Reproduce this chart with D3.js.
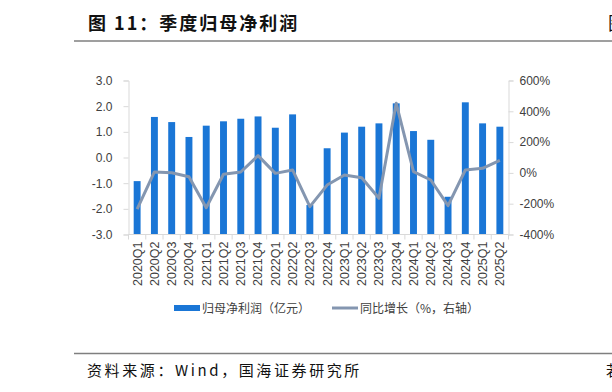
<!DOCTYPE html>
<html><head><meta charset="utf-8">
<script src="https://cdn.jsdelivr.net/npm/d3@7"></script>
<style>
body{margin:0;background:#fff;}
svg{display:block;font-family:"Noto Sans CJK SC","Noto Sans",sans-serif;}
</style></head>
<body>
<svg id="c" width="612" height="392"></svg>
<script>
const categories = ["2020Q1","2020Q2","2020Q3","2020Q4","2021Q1","2021Q2","2021Q3","2021Q4","2022Q1","2022Q2","2022Q3","2022Q4","2023Q1","2023Q2","2023Q3","2023Q4","2024Q1","2024Q2","2024Q3","2024Q4","2025Q1","2025Q2"];
const profit = [-0.92,1.58,1.38,0.80,1.24,1.41,1.51,1.60,1.16,1.68,-1.85,0.36,0.97,1.20,1.33,2.11,1.03,0.69,-1.53,2.15,1.33,1.20];
const yoy = [-235,6,1,-25,-226,-9,6,112,-3,19,-219,-79,-14,-31,-165,452,8,-46,-213,19,30,82];
const leftTicks = [-3,-2,-1,0,1,2,3];
const rightTicks = [-400,-200,0,200,400,600];
const title = "图 11：季度归母净利润";
const source = "资料来源：Wind，国海证券研究所";
const legendLabels = ["归母净利润（亿元）","同比增长（%，右轴）"];

const svg = d3.select("#c");
const barColor = "#1a76d6", lineColor = "#8496b0", axisColor = "#d9d9d9", textColor = "#404040";
const L = 128.5, R = 508.5, T = 80.5, B = 234.5;

// title
svg.append("text").attr("x",88).attr("y",30).attr("font-size",18).attr("font-weight","bold")
  .attr("letter-spacing","2px").attr("fill","#111").text(title);
svg.append("text").attr("x",608).attr("y",30).attr("font-size",18).attr("fill","#111").text("图");
svg.append("line").attr("x1",74).attr("x2",612).attr("y1",41).attr("y2",41).attr("stroke","#7f7f7f").attr("stroke-width",1.5);

// footer
svg.append("line").attr("x1",74).attr("x2",612).attr("y1",353.5).attr("y2",353.5).attr("stroke","#7f7f7f").attr("stroke-width",1.5);
svg.append("text").attr("x",87).attr("y",376).attr("font-size",15).attr("letter-spacing","2.6px").attr("fill","#111").text(source);
svg.append("text").attr("x",606).attr("y",376).attr("font-size",15).attr("fill","#111").text("若");

const x = d3.scaleBand().domain(categories).range([L,R]).paddingInner(0.6).paddingOuter(0.3);
const yL = d3.scaleLinear().domain([-3,3]).range([B,T]);
const yR = d3.scaleLinear().domain([-400,600]).range([B,T]);

// bars (from axis minimum)
svg.append("g").selectAll("rect").data(categories).join("rect")
  .attr("x",d=>x(d)).attr("width",x.bandwidth())
  .attr("y",(d,i)=>yL(profit[i])).attr("height",(d,i)=>yL(-3)-yL(profit[i]))
  .attr("fill",barColor);

// line
const line = d3.line().x((d,i)=>x(categories[i])+x.bandwidth()/2).y(d=>yR(d));
svg.append("path").datum(yoy).attr("d",line).attr("fill","none").attr("stroke",lineColor)
  .attr("stroke-width",3).attr("stroke-linejoin","round");

// axes
function styleAxis(g){
  g.select(".domain").attr("stroke",axisColor);
  g.selectAll(".tick line").attr("stroke",axisColor);
  g.selectAll(".tick text").attr("fill",textColor).attr("font-size",12);
}
const gl = svg.append("g").attr("transform",`translate(${L},0)`)
  .call(d3.axisLeft(yL).tickValues(leftTicks).tickFormat(d=>d.toFixed(1)).tickSize(5).tickSizeOuter(5).tickPadding(11));
styleAxis(gl);
const gr = svg.append("g").attr("transform",`translate(${R},0)`)
  .call(d3.axisRight(yR).tickValues(rightTicks).tickFormat(d=>d+"%").tickSize(5).tickSizeOuter(5).tickPadding(6));
styleAxis(gr);
const gb = svg.append("g").attr("transform",`translate(0,${B})`)
  .call(d3.axisBottom(x).tickSize(0).tickPadding(0));
gb.select(".domain").attr("stroke",axisColor).attr("d",`M${L},0H${R}`);
gb.selectAll(".tick text").attr("fill",textColor).attr("font-size",12.5)
  .attr("transform","rotate(-90)").attr("text-anchor","end").attr("dx","-7px").attr("dy","0.35em").attr("x",0).attr("y",0);
// category separator ticks
const step = x.step();
svg.append("g").selectAll("line").data(d3.range(categories.length+1)).join("line")
  .attr("x1",i=>L+i*step).attr("x2",i=>L+i*step).attr("y1",B).attr("y2",B+5).attr("stroke",axisColor);

// legend
const lg = svg.append("g");
lg.append("rect").attr("x",174).attr("y",305).attr("width",26).attr("height",6).attr("fill",barColor);
lg.append("text").attr("x",202).attr("y",312.5).attr("font-size",12).attr("fill",textColor).text(legendLabels[0]);
lg.append("line").attr("x1",332).attr("x2",358).attr("y1",308).attr("y2",308).attr("stroke",lineColor).attr("stroke-width",3);
lg.append("text").attr("x",360).attr("y",312.5).attr("font-size",12).attr("fill",textColor).text(legendLabels[1]);
</script>
</body></html>
